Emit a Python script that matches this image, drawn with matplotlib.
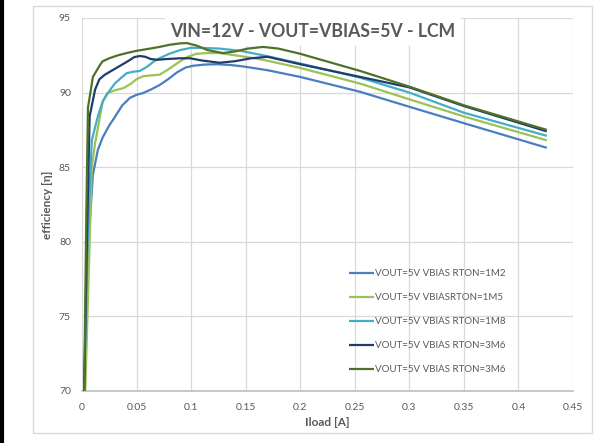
import numpy as np
import matplotlib.pyplot as plt
from matplotlib.lines import Line2D
from matplotlib.patches import Rectangle

plt.rcParams['font.family'] = ['Lato', 'DejaVu Sans']

# efficiency curves
x_1m2 = [0.002, 0.006, 0.01, 0.0145, 0.019, 0.025, 0.03, 0.037, 0.044, 0.05, 0.056, 0.063, 0.071,
         0.079, 0.087, 0.095, 0.102, 0.113, 0.124, 0.136, 0.148, 0.17, 0.2, 0.255, 0.3, 0.35, 0.426]
y_1m2 = [70, 80, 84.5, 86.15, 87.0, 87.8, 88.35, 89.15, 89.65, 89.85, 89.97, 90.2, 90.5,
         90.9, 91.35, 91.68, 91.8, 91.88, 91.9, 91.85, 91.75, 91.5, 91.05, 90.05, 89.05, 87.95, 86.3]

x_1m5 = [0.003, 0.007, 0.009, 0.012, 0.0165, 0.019, 0.023, 0.03, 0.038, 0.045, 0.05, 0.056, 0.063,
         0.071, 0.078, 0.085, 0.09, 0.097, 0.105, 0.115, 0.126, 0.145, 0.166, 0.2, 0.255, 0.3, 0.35, 0.426]
y_1m5 = [70, 80, 85, 86.6, 88.4, 89.4, 89.95, 90.15, 90.3, 90.6, 90.9, 91.1, 91.15,
         91.2, 91.5, 91.85, 92.1, 92.4, 92.6, 92.65, 92.65, 92.45, 92.2, 91.65, 90.6, 89.55, 88.4, 86.8]

x_1m8 = [0.002, 0.005, 0.009, 0.0145, 0.019, 0.024, 0.03, 0.036, 0.041, 0.047, 0.053, 0.06, 0.066,
         0.071, 0.08, 0.09, 0.1, 0.108, 0.126, 0.145, 0.166, 0.2, 0.255, 0.3, 0.35, 0.426]
y_1m8 = [70, 80, 86.8, 88.4, 89.4, 90.0, 90.6, 91.0, 91.3, 91.4, 91.45, 91.75, 92.1,
         92.3, 92.6, 92.85, 93.0, 93.0, 92.95, 92.8, 92.5, 91.95, 91.0, 90.0, 88.65, 87.1]

x_3m6a = [0.002, 0.0045, 0.007, 0.012, 0.016, 0.021, 0.028, 0.035, 0.042, 0.048, 0.053, 0.058, 0.063,
          0.069, 0.078, 0.09, 0.099, 0.11, 0.126, 0.14, 0.155, 0.17, 0.2, 0.255, 0.3, 0.35, 0.426]
y_3m6a = [70, 80, 88.4, 90.2, 90.9, 91.2, 91.5, 91.8, 92.1, 92.38, 92.45, 92.4, 92.25,
          92.2, 92.25, 92.3, 92.3, 92.15, 92.0, 92.1, 92.3, 92.4, 91.9, 91.05, 90.35, 89.1, 87.4]

x_3m6b = [0.002, 0.004, 0.0055, 0.01, 0.0165, 0.019, 0.025, 0.033, 0.041, 0.05, 0.06, 0.071, 0.08,
          0.09, 0.096, 0.105, 0.115, 0.129, 0.14, 0.152, 0.166, 0.18, 0.2, 0.255, 0.3, 0.35, 0.426]
y_3m6b = [70, 82, 89.0, 91.05, 91.85, 92.1, 92.3, 92.5, 92.65, 92.8, 92.92, 93.06, 93.2,
          93.3, 93.32, 93.15, 92.85, 92.65, 92.75, 92.95, 93.06, 92.95, 92.6, 91.45, 90.4, 89.15, 87.5]

labels = ["VOUT=5V VBIAS RTON=1M2", "VOUT=5V VBIASRTON=1M5", "VOUT=5V VBIAS RTON=1M8",
          "VOUT=5V VBIAS RTON=3M6", "VOUT=5V VBIAS RTON=3M6"]
colors = ["#4a7ebf", "#9bc255", "#45acc8", "#1f3d6b", "#4f7229"]

fig = plt.figure(figsize=(5.95, 4.43), dpi=100)
ax = fig.add_axes([0.1378, 0.1174, 0.8252, 0.842])

# chart frame and black edge on the left
fig.patches.append(Rectangle((0.0555, 0.0226), 0.9395, 0.964, transform=fig.transFigure,
                             fill=False, edgecolor="#d9d9d9", lw=1))
fig.lines.append(Line2D([0.0034, 0.0034], [0, 1], transform=fig.transFigure, color="black", lw=3))

series = [(x_1m2, y_1m2), (x_1m5, y_1m5), (x_1m8, y_1m8), (x_3m6a, y_3m6a), (x_3m6b, y_3m6b)]
for (xs, ys), lab, c in zip(series, labels, colors):
    ax.plot(xs, ys, color=c, lw=1.6, label=lab, solid_capstyle="butt", solid_joinstyle="round",
            zorder=3)

ax.set_xlim(0, 0.45)
ax.set_ylim(70, 95)
ax.set_xticks(np.arange(0, 0.451, 0.05))
ax.set_xticklabels(["0", "0.05", "0.1", "0.15", "0.2", "0.25", "0.3", "0.35", "0.4", "0.45"])
ax.set_yticks([70, 75, 80, 85, 90, 95])
ax.grid(True, color="#d9d9d9", lw=0.9)
ax.set_axisbelow(True)
for s in ["top", "right", "left"]:
    ax.spines[s].set_visible(False)
ax.spines["bottom"].set_color("#bfbfbf")
ax.spines["bottom"].set_linewidth(1.2)
ax.tick_params(length=0, labelsize=7.5, colors="#595959", pad=8)
ax.tick_params(axis="x", pad=9)

ax.set_xlabel("Iload [A]", fontsize=8.5, fontweight="bold", color="#595959", labelpad=3)
ax.set_ylabel("efficiency [η]", fontsize=8.5, fontweight="bold", color="#595959", labelpad=4)

ax.text(0.47, 0.963, "VIN=12V - VOUT=VBIAS=5V - LCM", transform=ax.transAxes,
        ha="center", va="center", fontsize=12.7, fontweight="bold", color="#595959",
        bbox=dict(facecolor="white", edgecolor="none", pad=4), zorder=1)

leg = ax.legend(loc="upper left", bbox_to_anchor=(0.525, 0.35), frameon=False,
                fontsize=7, labelspacing=1.55, handlelength=2.6, handletextpad=0.1)
for t in leg.get_texts():
    t.set_color("#595959")

fig.savefig("out.png", dpi=100)
